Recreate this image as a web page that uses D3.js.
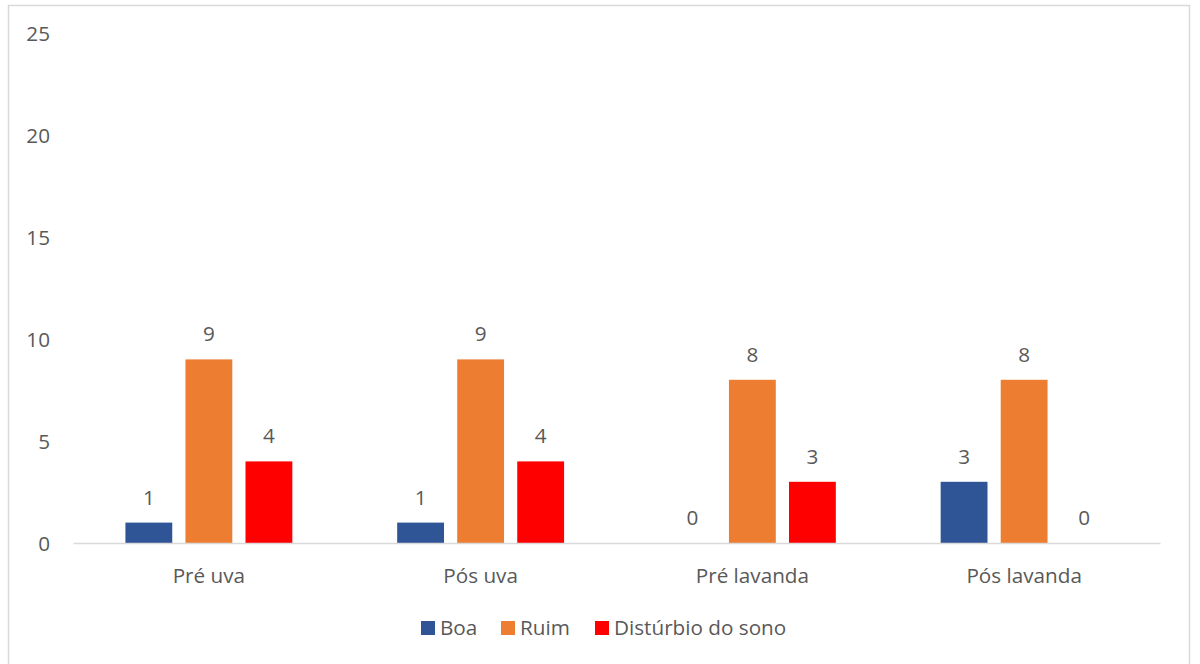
<!DOCTYPE html>
<html><head><meta charset="utf-8">
<script src="https://cdn.jsdelivr.net/npm/d3@7"></script>
<style>body{margin:0;background:#fff}svg{display:block}text{font-family:"Open Sans",sans-serif;fill:#595959}</style>
</head><body><svg id="c" width="1200" height="664"></svg>
<script>
const categories = ["Pré uva", "Pós uva", "Pré lavanda", "Pós lavanda"];
const seriesNames = ["Boa", "Ruim", "Distúrbio do sono"];
const boa = [1, 1, 0, 3];
const ruim = [9, 9, 8, 8];
const disturbio = [4, 4, 3, 0];
const yTicks = [0, 5, 10, 15, 20, 25];
const colors = ["#2F5597", "#ED7D31", "#FF0000"];

(function () {
const FS = 20.7, FF = "Open Sans";
const values = [boa, ruim, disturbio];
const svg = d3.select("#c");
svg.append("rect").attr("x", 8.5).attr("y", 5.5).attr("width", 1181).attr("height", 700)
  .attr("fill", "#fff").attr("stroke", "#d9d9d9").attr("stroke-width", 1.5);

const pLeft = 73, pRight = 1160, pTop = 33, pBottom = 543;
const x0 = d3.scaleBand().domain(categories).range([pLeft, pRight]).padding(0);
const x1 = d3.scaleBand().domain(seriesNames).range([0, x0.bandwidth()]).paddingInner(0.22).paddingOuter(0.873);
const y = d3.scaleLinear().domain([0, 25]).range([pBottom, pTop]);

const yAxis = d3.axisLeft(y).tickValues(yTicks).tickSize(0).tickPadding(0);
const ya = svg.append("g").attr("transform", `translate(50,0)`).call(yAxis);
ya.select(".domain").remove();
ya.selectAll("text").attr("font-size", FS).attr("font-family", FF).attr("fill", "#595959").attr("dy", "0.35em");

const data = [];
categories.forEach((c, i) => seriesNames.forEach((s, j) => data.push({c, s, j, v: values[j][i]})));
svg.append("g").selectAll("rect").data(data).join("rect")
  .attr("x", d => x0(d.c) + x1(d.s))
  .attr("y", d => y(d.v))
  .attr("width", x1.bandwidth())
  .attr("height", d => y(0) - y(d.v))
  .attr("fill", d => colors[d.j]);

const xAxis = d3.axisBottom(x0).tickSize(0).tickPadding(26);
const xa = svg.append("g").attr("transform", `translate(0,${pBottom})`).call(xAxis);
xa.select(".domain").attr("stroke", "#d9d9d9").attr("stroke-width", 1.5);
xa.selectAll("text").attr("font-size", FS).attr("font-family", FF).attr("fill", "#595959").attr("dy", "0.35em").attr("y", 33);

svg.append("g").selectAll("text").data(data).join("text")
  .attr("x", d => x0(d.c) + x1(d.s) + x1.bandwidth() / 2)
  .attr("y", d => y(d.v) - 18)
  .attr("text-anchor", "middle").attr("font-size", FS)
  .text(d => d.v);

const legendX = [421, 501, 595];
const lg = svg.append("g");
seriesNames.forEach((s, j) => {
  lg.append("rect").attr("x", legendX[j]).attr("y", 621).attr("width", 14).attr("height", 14).attr("fill", colors[j]);
  lg.append("text").attr("x", legendX[j] + 19).attr("y", 628).attr("dy", "0.35em").attr("font-size", FS).text(s);
});
})();
</script></body></html>
